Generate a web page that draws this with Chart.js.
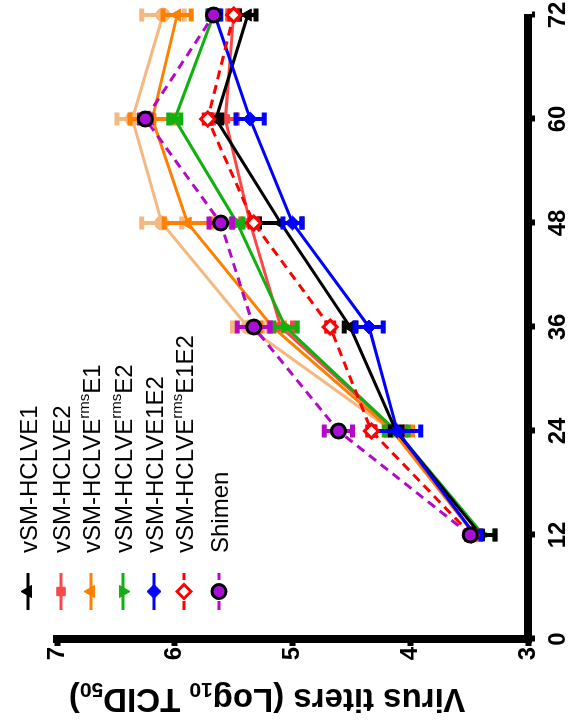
<!DOCTYPE html>
<html>
<head>
<meta charset="utf-8">
<script src="https://cdn.jsdelivr.net/npm/chart.js@4.4.1/dist/chart.umd.min.js"></script>
<style>
  html, body { margin: 0; padding: 0; background: #fff; overflow: hidden; }
  #wrap {
    position: absolute; left: 0; top: 0;
    width: 727px; height: 568px;
    transform-origin: top left;
    transform: translateY(727px) rotate(-90deg);
  }
</style>
</head>
<body>
<div id="wrap"><canvas id="chart" width="727" height="568"></canvas></div>
<script>
const FONT = "'Liberation Sans', Arial, sans-serif";

// hours post infection
const hours = [12, 24, 36, 48, 60, 72];

// virus titers (log10 TCID50) and error bars
const hclvE1      = [3.40, 4.12, 4.51, 5.10, 5.65, 5.38];
const hclvE1Err   = [0.12, 0.05, 0.05, 0.18, 0.05, 0.07];
const hclvE2      = [3.45, 4.12, 5.10, 5.36, 5.57, 5.50];
const hclvE2Err   = [0.05, 0.08, 0.10, 0.08, 0.10, 0.05];
const rmsE1       = [3.45, 4.15, 5.17, 5.89, 6.19, 5.98];
const rmsE1Err    = [0.05, 0.17, 0.10, 0.20, 0.19, 0.12];
const rmsE2       = [3.38, 4.12, 5.06, 5.47, 6.00, 5.67];
const rmsE2Err    = [0.10, 0.10, 0.10, 0.05, 0.05, 0.05];
const hclvE1E2    = [3.45, 4.11, 4.35, 5.00, 5.36, 5.66];
const hclvE1E2Err = [0.05, 0.20, 0.12, 0.08, 0.12, 0.05];
const rmsE1E2     = [3.48, 4.33, 4.68, 5.33, 5.72, 5.50];
const rmsE1E2Err  = [0.03, 0.03, 0.03, 0.03, 0.03, 0.03];
const shimen      = [3.49, 4.61, 5.33, 5.61, 6.25, 5.67];
const shimenErr   = [0.03, 0.12, 0.14, 0.10, 0.05, 0.03];
const extra       = [3.45, 4.15, 5.38, 6.11, 6.36, 6.10];
const extraErr    = [0.05, 0.05, 0.13, 0.17, 0.13, 0.18];

const xTicks = [0, 12, 24, 36, 48, 60, 72];
const yTicks = [3, 4, 5, 6, 7];

function pts(vals) { return hours.map((h, i) => ({ x: h, y: vals[i] })); }

function series(label, vals, errs, color, style, extraOpts) {
  return Object.assign({
    label: label,
    data: pts(vals),
    errors: errs,
    borderColor: color,
    backgroundColor: color,
    pointBackgroundColor: color,
    pointBorderColor: color,
    pointBorderWidth: 1,
    pointStyle: style,
    pointRadius: 7,
    borderWidth: 3,
    tension: 0,
    clip: false
  }, extraOpts || {});
}

const datasets = [
  series('vSM-HCLVE1', hclvE1, hclvE1Err, '#000000', 'triangle', { order: 3 }),
  series('vSM-HCLVE2', hclvE2, hclvE2Err, '#F84848', 'rect', { pointRadius: 6, order: 5 }),
  series('vSM-HCLVE|rms|E1', rmsE1, rmsE1Err, '#FF8000', 'triangle', { order: 6 }),
  series('vSM-HCLVE|rms|E2', rmsE2, rmsE2Err, '#10B010', 'triangle', { pointRotation: 180, order: 4 }),
  series('vSM-HCLVE1E2', hclvE1E2, hclvE1E2Err, '#0000FF', 'rectRot', { order: 2 }),
  series('vSM-HCLVE|rms|E1E2', rmsE1E2, rmsE1E2Err, '#FF0000', 'rectRot', {
    borderDash: [9, 6], pointBackgroundColor: '#ffffff', pointBorderWidth: 3, pointRadius: 7, order: 1 }),
  series('Shimen', shimen, shimenErr, '#B40AC8', 'circle', {
    borderDash: [9, 6], pointBackgroundColor: '#A810D8', pointBorderColor: '#000000',
    pointBorderWidth: 3, pointRadius: 7, order: 0 }),
  series('', extra, extraErr, '#F4B880', 'circle', { order: 7, noLegend: true })
];

// error bars, drawn under each dataset's line and markers
const errorBars = {
  id: 'errorBars',
  beforeDatasetDraw(chart, args) {
    const ds = chart.data.datasets[args.index];
    if (!ds.errors) return;
    const ctx = chart.ctx, ys = chart.scales.y;
    ctx.save();
    ctx.strokeStyle = ds.borderColor;
    args.meta.data.forEach((pt, i) => {
      const v = ds.data[i].y, e = ds.errors[i];
      const y1 = ys.getPixelForValue(v + e), y2 = ys.getPixelForValue(v - e);
      ctx.lineWidth = 4;
      ctx.beginPath();
      ctx.moveTo(pt.x, y1); ctx.lineTo(pt.x, y2);
      ctx.stroke();
      ctx.lineWidth = 5;
      ctx.beginPath();
      ctx.moveTo(pt.x - 6.5, y1); ctx.lineTo(pt.x + 6.5, y1);
      ctx.moveTo(pt.x - 6.5, y2); ctx.lineTo(pt.x + 6.5, y2);
      ctx.stroke();
    });
    ctx.restore();
  }
};

// legend with superscripts + axis title with subscripts
const legendRows = [37, 70, 100, 132, 163, 193, 228];
const annotations = {
  id: 'annotations',
  afterDraw(chart) {
    const ctx = chart.ctx;
    ctx.save();
    let row = 0;
    chart.data.datasets.forEach(ds => {
      if (ds.noLegend) return;
      const base = legendRows[row++];
      const cy = base - 9;
      ctx.save();
      ctx.strokeStyle = ds.borderColor;
      ctx.lineWidth = ds.borderWidth;
      ctx.setLineDash(ds.borderDash || []);
      ctx.beginPath();
      ctx.moveTo(117, cy); ctx.lineTo(154, cy);
      ctx.stroke();
      ctx.setLineDash([]);
      ctx.fillStyle = ds.pointBackgroundColor;
      ctx.strokeStyle = ds.pointBorderColor;
      ctx.lineWidth = ds.pointBorderWidth;
      Chart.helpers.drawPoint(ctx, {
        pointStyle: ds.pointStyle, rotation: ds.pointRotation || 0,
        radius: ds.pointRadius, borderWidth: ds.pointBorderWidth
      }, 135.5, cy);
      ctx.restore();

      ctx.fillStyle = '#000';
      ctx.textBaseline = 'alphabetic';
      ctx.textAlign = 'left';
      let x = 174;
      ds.label.split('|').forEach((part, k) => {
        const sup = k === 1;
        ctx.font = (sup ? '15px ' : '24px ') + FONT;
        ctx.fillText(part, x, sup ? base - 11 : base);
        x += ctx.measureText(part).width;
      });
    });

    // y axis title
    const parts = [['Virus titers (Log', false], ['10', true], [' TCID', false], ['50', true], [')', false]];
    const fontFor = sub => 'bold ' + (sub ? '21px ' : '33px ') + FONT;
    let total = 0;
    parts.forEach(p => { ctx.font = fontFor(p[1]); total += ctx.measureText(p[0]).width; });
    ctx.translate(38, 267);
    ctx.rotate(-Math.PI / 2);
    ctx.fillStyle = '#000';
    ctx.textBaseline = 'alphabetic';
    let x = -total / 2;
    parts.forEach(p => {
      ctx.font = fontFor(p[1]);
      ctx.fillText(p[0], x, p[1] ? 6 : 0);
      x += ctx.measureText(p[0]).width;
    });
    ctx.restore();
  }
};

new Chart(document.getElementById('chart').getContext('2d'), {
  type: 'line',
  data: { datasets: datasets },
  options: {
    responsive: false,
    animation: false,
    devicePixelRatio: 1,
    layout: { padding: { top: 57, right: 15, left: 0, bottom: 0 } },
    plugins: { legend: { display: false }, tooltip: { enabled: false } },
    scales: {
      x: {
        type: 'linear', min: 0, max: 72,
        afterFit: s => { s.height = 40; s.paddingLeft = 0; s.paddingRight = 0; },
        afterBuildTicks: s => { s.ticks = xTicks.map(v => ({ value: v })); },
        border: { display: true, width: 8, color: '#000' },
        grid: { drawOnChartArea: false, drawTicks: true, tickLength: 7, tickWidth: 6, tickColor: '#000' },
        ticks: { autoSkip: false, maxRotation: 0, padding: 9, color: '#000',
                 font: { family: FONT, size: 24, weight: 'bold' } }
      },
      y: {
        type: 'linear', min: 3, max: 7,
        afterFit: s => { s.width = 88; s.paddingTop = 0; s.paddingBottom = 0; },
        afterBuildTicks: s => { s.ticks = yTicks.map(v => ({ value: v })); },
        border: { display: true, width: 8, color: '#000' },
        grid: { drawOnChartArea: false, drawTicks: true, tickLength: 7, tickWidth: 6, tickColor: '#000' },
        ticks: { padding: 1, color: '#000',
                 font: { family: FONT, size: 24, weight: 'bold' } }
      }
    }
  },
  plugins: [errorBars, annotations]
});
</script>
</body>
</html>
